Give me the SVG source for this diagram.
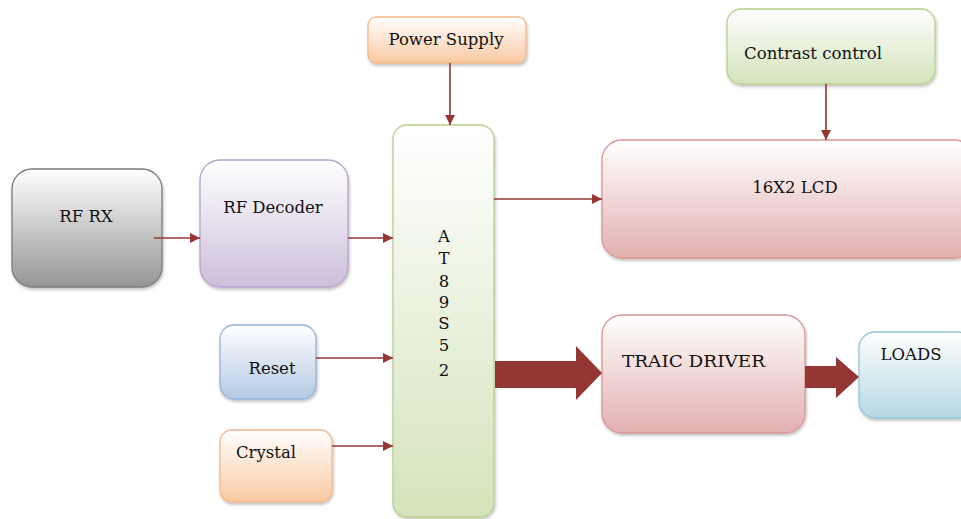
<svg xmlns="http://www.w3.org/2000/svg" width="961" height="519" viewBox="0 0 961 519">
<defs>
<linearGradient id="gGray" x1="0" y1="0" x2="0" y2="1"><stop offset="0" stop-color="#ffffff"/><stop offset="1" stop-color="#959595"/></linearGradient>
<linearGradient id="gPurple" x1="0" y1="0" x2="0" y2="1"><stop offset="0" stop-color="#ffffff"/><stop offset="1" stop-color="#cdbfdb"/></linearGradient>
<linearGradient id="gPeach" x1="0" y1="0" x2="0" y2="1"><stop offset="0" stop-color="#ffffff"/><stop offset="1" stop-color="#f9c9a2"/></linearGradient>
<linearGradient id="gGreen" x1="0" y1="0" x2="0" y2="1"><stop offset="0" stop-color="#ffffff"/><stop offset="1" stop-color="#d4e3bb"/></linearGradient>
<linearGradient id="gRed" x1="0" y1="0" x2="0" y2="1"><stop offset="0" stop-color="#ffffff"/><stop offset="1" stop-color="#e3b0b0"/></linearGradient>
<linearGradient id="gBlue" x1="0" y1="0" x2="0" y2="1"><stop offset="0" stop-color="#ffffff"/><stop offset="1" stop-color="#b5d7e3"/></linearGradient>
<linearGradient id="gSteel" x1="0" y1="0" x2="0" y2="1"><stop offset="0" stop-color="#ffffff"/><stop offset="1" stop-color="#b3c9e3"/></linearGradient>
<filter id="sh" x="-10%" y="-10%" width="130%" height="130%"><feDropShadow dx="1" dy="2" stdDeviation="1.5" flood-color="#000" flood-opacity="0.25"/></filter>
<marker id="ah" viewBox="0 0 10 10" refX="10" refY="5" markerWidth="10" markerHeight="10" markerUnits="userSpaceOnUse" orient="auto"><path d="M0,0 L10,5 L0,10 z" fill="#953735"/></marker>
</defs>
<style>
.box{filter:url(#sh);stroke-width:1.3}
.t{font-family:"DejaVu Serif","Liberation Serif",serif;font-size:16.5px;fill:#111111}
.ln{stroke:#953735;stroke-width:1.6;fill:none;marker-end:url(#ah)}
.big{fill:#943634}
</style>
<rect width="961" height="519" fill="#ffffff"/>
<g id="rf-rx"><rect class="box" x="12" y="169" width="150" height="118" rx="20" fill="url(#gGray)" stroke="#7a7a7a"/><text class="t" x="86" y="222" text-anchor="middle">RF RX</text></g>
<g id="rf-decoder"><rect class="box" x="200" y="160" width="148" height="127" rx="20" fill="url(#gPurple)" stroke="#b6a3cc"/><text class="t" x="273" y="213" text-anchor="middle">RF Decoder</text></g>
<g id="power-supply"><rect class="box" x="368" y="17" width="158" height="46" rx="8" fill="url(#gPeach)" stroke="#f3b98c"/><text class="t" x="446" y="45" text-anchor="middle">Power Supply</text></g>
<g id="at89s52"><rect class="box" x="393" y="125" width="101" height="392" rx="14" fill="url(#gGreen)" stroke="#b9d08e"/>
<text class="t" x="444" y="242" text-anchor="middle">A</text>
<text class="t" x="444" y="264" text-anchor="middle">T</text>
<text class="t" x="444" y="287" text-anchor="middle">8</text>
<text class="t" x="444" y="308" text-anchor="middle">9</text>
<text class="t" x="444" y="329" text-anchor="middle">S</text>
<text class="t" x="444" y="351" text-anchor="middle">5</text>
<text class="t" x="444" y="376" text-anchor="middle">2</text></g>
<g id="contrast-control"><rect class="box" x="727" y="9" width="208" height="75" rx="14" fill="url(#gGreen)" stroke="#b9d08e"/><text class="t" x="744" y="59" textLength="138" lengthAdjust="spacingAndGlyphs">Contrast control</text></g>
<g id="lcd"><rect class="box" x="602" y="140" width="372" height="118" rx="20" fill="url(#gRed)" stroke="#d99594"/><text class="t" x="795" y="193" text-anchor="middle">16X2 LCD</text></g>
<g id="traic-driver"><rect class="box" x="602" y="315" width="203" height="118" rx="20" fill="url(#gRed)" stroke="#d99594"/><text class="t" x="622" y="367" textLength="143" lengthAdjust="spacingAndGlyphs">TRAIC DRIVER</text></g>
<g id="loads"><rect class="box" x="859" y="332" width="115" height="86" rx="16" fill="url(#gBlue)" stroke="#93c7d6"/><text class="t" x="911" y="360" text-anchor="middle">LOADS</text></g>
<g id="reset"><rect class="box" x="220" y="325" width="96" height="74" rx="14" fill="url(#gSteel)" stroke="#95b3d7"/><text class="t" x="272" y="374" text-anchor="middle">Reset</text></g>
<g id="crystal"><rect class="box" x="220" y="430" width="112" height="72" rx="12" fill="url(#gPeach)" stroke="#f3b98c"/><text class="t" x="236" y="458">Crystal</text></g>
<g id="connectors">
<line class="ln" x1="154" y1="238" x2="200" y2="238"/>
<line class="ln" x1="348" y1="238" x2="393" y2="238"/>
<line class="ln" x1="450" y1="63" x2="450" y2="125"/>
<line class="ln" x1="826" y1="84" x2="826" y2="140"/>
<line class="ln" x1="494" y1="199" x2="602" y2="199"/>
<line class="ln" x1="316" y1="358" x2="393" y2="358"/>
<line class="ln" x1="332" y1="446" x2="393" y2="446"/>
<path class="big" d="M495,361 L576,361 L576,346 L602,373 L576,400 L576,388 L495,388 Z"/>
<path class="big" d="M805,366 L836,366 L836,357 L859,377 L836,398 L836,388 L805,388 Z"/>
</g>
</svg>
